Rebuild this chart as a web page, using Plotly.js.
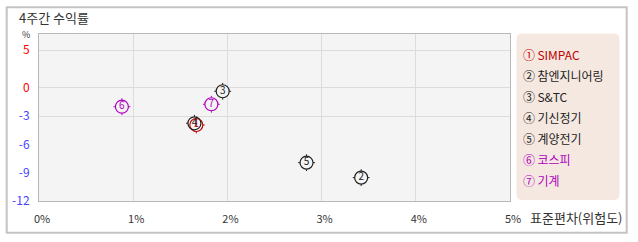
<!DOCTYPE html>
<html><head><meta charset="utf-8">
<script src="https://cdn.plot.ly/plotly-3.0.1.min.js"></script>
<style>html,body{margin:0;padding:0;background:#fff;}#c{width:638px;height:242px;}</style>
</head><body><div id="c"></div>
<script>
// ---- data ----
const names = ['SIMPAC','참엔지니어링','S&TC','기신정기','계양전기','코스피','기계'];
const labels = ['①','②','③','④','⑤','⑥','⑦'];
const digits = ['1','2','3','4','5','6','7'];
const risk = [1.67, 3.42, 1.95, 1.65, 2.84, 0.88, 1.83];   // 표준편차 (%)
const ret  = [-3.93, -9.52, -0.35, -3.75, -7.93, -1.99, -1.73]; // 4주간 수익률 (%)
const colors = ['#c00000','#222222','#222222','#222222','#222222','#b000c0','#b000c0'];
const xTickVals = [0,1,2,3,4,5];
const xTickText = ['0%','1%','2%','3%','4%','5%'];
const yTickVals = [4,0,-3,-6,-9,-12];
const yTickText = ['5','0','-3','-6','-9','-12'];
const yTickColors = ['#ff0000','#ff0000','#4444ff','#4444ff','#4444ff','#4444ff'];
const yGridVals = [4,0,-3];

// ---- layout helpers (pixel -> paper) ----
const W=638,H=242,ML=39,MR=128,MT=34,MB=41;
const PW=W-ML-MR, PH=H-MT-MB;
const px=x=>(x-ML)/PW, py=y=>(H-MB-y)/PH;
const FONT='"Noto Sans CJK KR", "DejaVu Sans", sans-serif';
const BG='#f4f4f4';

const traces=[
 {x:risk,y:ret,mode:'markers',hoverinfo:'skip',marker:{symbol:'cross-thin-open',size:12,color:colors,line:{width:1}},showlegend:false},
 {x:risk,y:ret,mode:'markers',hoverinfo:'skip',marker:{symbol:'circle',size:13,color:BG,line:{width:0}},showlegend:false},
 {x:risk,y:ret,mode:'markers',hoverinfo:'skip',marker:{symbol:'circle-open',size:13,color:colors,line:{width:1.2}},showlegend:false},
 {x:risk,y:ret,mode:'text',text:digits,textposition:'middle center',textfont:{family:FONT,size:10,color:colors},hoverinfo:'skip',showlegend:false}
];

// legend box path with rounded corners (paper coords)
function roundRect(x0,y0,x1,y1,r){
  const X=v=>px(v).toFixed(5), Y=v=>py(v).toFixed(5);
  return `M${X(x0+r)},${Y(y0)} L${X(x1-r)},${Y(y0)} Q${X(x1)},${Y(y0)} ${X(x1)},${Y(y0+r)} L${X(x1)},${Y(y1-r)} Q${X(x1)},${Y(y1)} ${X(x1-r)},${Y(y1)} L${X(x0+r)},${Y(y1)} Q${X(x0)},${Y(y1)} ${X(x0)},${Y(y1-r)} L${X(x0)},${Y(y0+r)} Q${X(x0)},${Y(y0)} ${X(x0+r)},${Y(y0)} Z`;
}

const annotations=[
 {text:'4주간 수익률',x:px(17),y:py(18),xref:'paper',yref:'paper',xanchor:'left',yanchor:'middle',showarrow:false,font:{family:FONT,size:13,color:'#333'}},
 {text:'%',x:px(25.5),y:py(34.5),xref:'paper',yref:'paper',xanchor:'center',yanchor:'middle',showarrow:false,font:{family:FONT,size:9,color:'#333'}},
 {text:'표준편차(위험도)',x:px(528),y:py(217),xref:'paper',yref:'paper',xanchor:'left',yanchor:'middle',showarrow:false,font:{family:FONT,size:13,color:'#333'}}
];
names.forEach((n,i)=>{
  annotations.push({text:labels[i]+'\u2009'+n,x:px(521),y:py(54.3+i*21.1),xref:'paper',yref:'paper',xanchor:'left',yanchor:'middle',showarrow:false,font:{family:FONT,size:12,color:colors[i]}});
});

const layout={
 width:W,height:H,margin:{l:ML,r:MR,t:MT,b:MB,pad:0},
 paper_bgcolor:'#fff',plot_bgcolor:BG,showlegend:false,
 xaxis:{range:[0,5],tickmode:'array',tickvals:xTickVals,ticktext:xTickText,showgrid:true,gridcolor:'#dcdcdc',zeroline:false,
        showline:true,mirror:true,linecolor:'#b8b8b8',linewidth:1,ticks:'',ticklabelstandoff:8,ticklabelshift:3,
        tickfont:{family:FONT,size:11,color:'#333'},fixedrange:true},
 yaxis:{range:[-12,5.73],tickmode:'array',tickvals:yTickVals,
        ticktext:yTickText.map((t,i)=>`<span style="color:${yTickColors[i]}">${t}</span>`),
        showgrid:false,zeroline:false,showline:true,mirror:true,linecolor:'#b8b8b8',linewidth:1,ticks:'',ticklabelstandoff:6,
        minor:{tickmode:'array',tickvals:yGridVals,showgrid:true,gridcolor:'#dcdcdc',ticks:''},
        tickfont:{family:FONT,size:12,color:'#4444ff'},fixedrange:true},
 shapes:[
  {type:'rect',xref:'paper',yref:'paper',x0:px(6.7),x1:px(626.7),y0:py(232.7),y1:py(7.3),line:{color:'#c4c4c4',width:2},layer:'below'},
  {type:'path',xref:'paper',yref:'paper',path:roundRect(516.5,33.5,619.5,200,6),fillcolor:'#f5e8e0',line:{width:0},layer:'below'}
 ],
 annotations:annotations
};
Plotly.newPlot('c',traces,layout,{staticPlot:true,displayModeBar:false});
</script></body></html>
